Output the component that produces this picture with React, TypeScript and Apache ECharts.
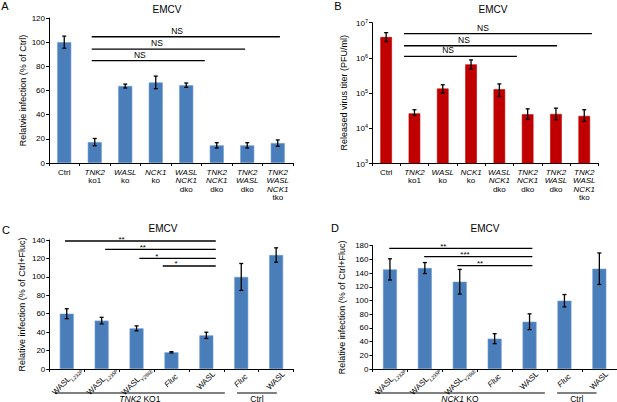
import React, { useEffect, useRef } from 'react';
import * as echarts from 'echarts';

const FONT = '"Liberation Sans", Arial, Helvetica, sans-serif';
const GENES = ['TNK2', 'WASL', 'NCK1'];

// Panel A
const catsA = ['Ctrl', 'TNK2\nko1', 'WASL\nko', 'NCK1\nko', 'WASL\nNCK1\ndko', 'TNK2\nNCK1\ndko', 'TNK2\nWASL\ndko', 'TNK2\nWASL\nNCK1\ntko'];
const valsA = [100, 17.3, 63.7, 66.7, 64.4, 14.6, 14.6, 16.5];
const errA = [5, 3, 1.6, 5.2, 1.8, 2.2, 2.2, 2.6];
const sigA = [
  { from: 0.9, to: 7.07, y: 104.5, label: 'NS', at: 3.7 },
  { from: 0.9, to: 5.93, y: 94.3, label: 'NS', at: 3.04 },
  { from: 0.9, to: 4.61, y: 84.7, label: 'NS', at: 2.48 },
];

// Panel B
const catsB = catsA;
const valsB = [3.9e6, 2.6e4, 1.33e5, 6.5e5, 1.27e5, 2.45e4, 2.5e4, 2.2e4];
const lowB = [2.9e6, 2.27e4, 9.8e4, 4.8e5, 7.9e4, 1.78e4, 1.7e4, 1.53e4];
const highB = [5.2e6, 3.3e4, 1.7e5, 8.7e5, 1.8e5, 3.5e4, 3.66e4, 3.3e4];
const sigB = [
  { from: 0.63, to: 7.27, y: 4.9e6, label: 'NS', at: 3.42 },
  { from: 0.63, to: 6.04, y: 2.2e6, label: 'NS', at: 2.75 },
  { from: 0.63, to: 4.62, y: 1.1e6, label: 'NS', at: 2.19 },
];

// Panel C
const catsC = ['WASL L232P', 'WASL L235P', 'WASL Y256E', 'Fluc', 'WASL', 'Fluc', 'WASL'];
const valsC = [60, 52.5, 44.1, 18.1, 36.5, 99.9, 123.7];
const errC = [5.4, 3.6, 2.7, 0.7, 3.4, 14.6, 7.8];
const sigC = [
  { from: -0.05, to: 4.27, y: 138.9, label: '**', at: 1.57 },
  { from: 1.1, to: 4.27, y: 129.9, label: '**', at: 2.18 },
  { from: 2.08, to: 4.27, y: 120.1, label: '*', at: 2.58 },
  { from: 2.75, to: 4.27, y: 111.8, label: '*', at: 3.13 },
];
const groupsC = [
  { from: -0.34, to: 4.53, label: 'TNK2 KO1' },
  { from: 4.88, to: 6.02, label: 'Ctrl' },
];

// Panel D
const catsD = ['WASL L232P', 'WASL L235P', 'WASL Y256E', 'Fluc', 'WASL', 'Fluc', 'WASL'];
const valsD = [145.4, 147.4, 127.4, 44.3, 69, 99.7, 146.4];
const errD = [15.5, 8, 18, 7.3, 11.5, 9, 23];
const sigD = [
  { from: -0.02, to: 4.08, y: 176.2, label: '**', at: 1.53 },
  { from: 0.98, to: 4.08, y: 164, label: '***', at: 2.15 },
  { from: 1.93, to: 4.08, y: 150.8, label: '**', at: 2.58 },
];
const groupsD = [
  { from: -0.43, to: 4.44, label: 'NCK1 KO' },
  { from: 4.79, to: 5.92, label: 'Ctrl' },
];

const BLUE = '#4a7ebb';
const RED = '#c00000';

const richGene = {
  i: { fontStyle: 'italic', fontSize: 8, lineHeight: 8.5, fontFamily: FONT, color: '#000' },
  n: { fontSize: 8, lineHeight: 8.5, fontFamily: FONT, color: '#000' },
};
const fmtGeneLines = (v: string) =>
  v.split('\n').map((l) => (GENES.includes(l) ? `{i|${l}}` : `{n|${l}}`)).join('\n');

const richSub = {
  w: { fontSize: 8, lineHeight: 9, verticalAlign: 'top', fontFamily: FONT, color: '#000' },
  f: { fontSize: 8, lineHeight: 9, verticalAlign: 'top', fontStyle: 'italic', fontFamily: FONT, color: '#000' },
  s: { fontSize: 5, lineHeight: 6, padding: [5, 0, 0, 0], verticalAlign: 'top', fontStyle: 'italic', fontFamily: FONT, color: '#000' },
};
const fmtSub = (v: string) => {
  const [g, m] = v.split(' ');
  if (g === 'Fluc') return `{f|${g}}`;
  return m ? `{w|${g}}{s|${m}}` : `{w|${g}}`;
};

const txt = (extra: any) => ({
  fontFamily: FONT,
  fill: '#000',
  ...extra,
  align: extra.textAlign,
  verticalAlign: extra.textVerticalAlign,
});

const axisCommon = {
  axisLine: { show: true, lineStyle: { color: '#000', width: 1 } },
  axisTick: { show: true, length: 3, lineStyle: { color: '#000', width: 1 } },
  splitLine: { show: false },
};

function errRender(lows: number[], highs: number[]) {
  return (params: any, api: any) => {
    const i = params.dataIndex;
    const t = api.coord([i, highs[i]]);
    const b = api.coord([i, lows[i]]);
    const cw = 2;
    const st = { stroke: '#000', lineWidth: 1.3 };
    return {
      type: 'group',
      children: [
        { type: 'line', shape: { x1: t[0], y1: t[1], x2: b[0], y2: b[1] }, style: st },
        { type: 'line', shape: { x1: t[0] - cw, y1: t[1], x2: t[0] + cw, y2: t[1] }, style: st },
        { type: 'line', shape: { x1: b[0] - cw, y1: b[1], x2: b[0] + cw, y2: b[1] }, style: st },
      ],
    };
  };
}

function sigRender(list: any[], fontSize: number, dy: number) {
  return (params: any, api: any) => {
    const s = list[params.dataIndex];
    const p0 = api.coord([0, s.y]);
    const p1 = api.coord([1, s.y]);
    const bw = p1[0] - p0[0];
    const x = (f: number) => p0[0] + f * bw;
    return {
      type: 'group',
      children: [
        { type: 'line', shape: { x1: x(s.from), y1: p0[1], x2: x(s.to), y2: p0[1] }, style: { stroke: '#000', lineWidth: 1.3 } },
        {
          type: 'text',
          x: x(s.at),
          y: p0[1] + dy,
          style: txt({ text: s.label, fontSize, textAlign: 'center', textVerticalAlign: 'bottom' }),
        },
      ],
    };
  };
}

function groupRender(list: any[]) {
  return (params: any, api: any) => {
    const g = list[params.dataIndex];
    const p0 = api.coord([0, 0]);
    const p1 = api.coord([1, 0]);
    const bw = p1[0] - p0[0];
    const x = (f: number) => p0[0] + f * bw;
    const y = p0[1] + 24;
    const text = g.label
      .split(' ')
      .map((w: string) => (GENES.includes(w) ? `{i|${w}}` : `{n|${w}}`))
      .join('{n| }');
    return {
      type: 'group',
      children: [
        { type: 'line', shape: { x1: x(g.from), y1: y, x2: x(g.to), y2: y }, style: { stroke: '#000', lineWidth: 1.2 } },
        {
          type: 'text',
          x: x((g.from + g.to) / 2),
          y: y + 1,
          style: txt({
            text,
            textAlign: 'center',
            textVerticalAlign: 'top',
            rich: {
              i: { fontStyle: 'italic', fontSize: 8.5, fontFamily: FONT, fill: '#000' },
              n: { fontSize: 8.5, fontFamily: FONT, fill: '#000' },
            },
          }),
        },
      ],
    };
  };
}

function buildOption() {
  const grids = [
    { left: 49, top: 18, width: 244, height: 145 },
    { left: 372, top: 22.7, width: 226.4, height: 140.3 },
    { left: 49.3, top: 240, width: 244.3, height: 129 },
    { left: 372.5, top: 245.7, width: 244.3, height: 123.3 },
  ];
  const yLabel = { color: '#000', fontSize: 8, fontFamily: FONT, margin: 4 };
  const yName = { color: '#000', fontSize: 9, fontFamily: FONT };
  const xAxis = [
    {
      type: 'category', gridIndex: 0, data: catsA, ...axisCommon,
      axisTick: { ...axisCommon.axisTick, interval: 0 },
      axisLabel: { interval: 0, margin: 5, formatter: fmtGeneLines, rich: richGene },
    },
    {
      type: 'category', gridIndex: 1, data: catsB, ...axisCommon,
      axisTick: { ...axisCommon.axisTick, interval: 0 },
      axisLabel: { interval: 0, margin: 5, formatter: fmtGeneLines, rich: richGene },
    },
    {
      type: 'category', gridIndex: 2, data: catsC, ...axisCommon,
      axisTick: { ...axisCommon.axisTick, interval: 0 },
      axisLabel: { interval: 0, margin: 12, rotate: 45, align: 'center', verticalAlign: 'middle', formatter: fmtSub, rich: richSub },
    },
    {
      type: 'category', gridIndex: 3, data: catsD, ...axisCommon,
      axisTick: { ...axisCommon.axisTick, interval: 0 },
      axisLabel: { interval: 0, margin: 12, rotate: 45, align: 'center', verticalAlign: 'middle', formatter: fmtSub, rich: richSub },
    },
  ];
  const yAxis = [
    {
      type: 'value', gridIndex: 0, min: 0, max: 120, interval: 20, ...axisCommon,
      axisLabel: yLabel, name: 'Relatvie infection (% of Ctrl)', nameLocation: 'middle', nameGap: 19, nameTextStyle: yName,
    },
    {
      type: 'log', logBase: 10, gridIndex: 1, min: 1e3, max: 1e7, ...axisCommon,
      axisLabel: {
        ...yLabel,
        margin: 4,
        formatter: (v: number) => `{b|10}{sup|${Math.round(Math.log10(v))}}`,
        rich: {
          b: { fontSize: 8, lineHeight: 10, verticalAlign: 'bottom', fontFamily: FONT, color: '#000' },
          sup: { fontSize: 5.5, lineHeight: 6, verticalAlign: 'top', fontFamily: FONT, color: '#000' },
        },
      },
      name: 'Released virus titer (PFU/ml)', nameLocation: 'middle', nameGap: 24, nameTextStyle: yName,
    },
    {
      type: 'value', gridIndex: 2, min: 0, max: 140, interval: 20, ...axisCommon,
      axisLabel: yLabel, name: 'Relative infection (% of Ctrl+Fluc)', nameLocation: 'middle', nameGap: 23, nameTextStyle: yName,
    },
    {
      type: 'value', gridIndex: 3, min: 0, max: 180, interval: 20, ...axisCommon,
      axisLabel: yLabel, name: 'Relative infection (% of Ctrl+Fluc)', nameLocation: 'middle', nameGap: 26, nameTextStyle: yName,
    },
  ];

  const bar = (idx: number, data: number[], color: string, width: string) => ({
    type: 'bar', xAxisIndex: idx, yAxisIndex: idx, data, barWidth: width,
    itemStyle: { color, borderColor: color === BLUE ? '#6f9bd1' : color, borderWidth: 0.6 },
    silent: true,
  });
  const err = (idx: number, vals: number[], lows: number[], highs: number[]) => ({
    type: 'custom', xAxisIndex: idx, yAxisIndex: idx,
    data: vals.map((v, i) => [i, v]),
    renderItem: errRender(lows, highs), z: 5, silent: true,
  });
  const sig = (idx: number, list: any[], fs: number, dy: number) => ({
    type: 'custom', xAxisIndex: idx, yAxisIndex: idx,
    data: list.map((s) => [Math.round(s.from < 0 ? 0 : s.from), s.y]),
    renderItem: sigRender(list, fs, dy), z: 6, silent: true,
  });
  const grp = (idx: number, list: any[]) => ({
    type: 'custom', xAxisIndex: idx, yAxisIndex: idx,
    data: list.map(() => [0, 0]),
    renderItem: groupRender(list), z: 6, silent: true, clip: false,
  });

  const series = [
    bar(0, valsA, BLUE, '46%'),
    err(0, valsA, valsA.map((v, i) => v - errA[i]), valsA.map((v, i) => v + errA[i])),
    sig(0, sigA, 8.5, -1.5),
    bar(1, valsB, RED, '41%'),
    err(1, valsB, lowB, highB),
    sig(1, sigB, 8.5, -1.5),
    bar(2, valsC, BLUE, '40%'),
    err(2, valsC, valsC.map((v, i) => v - errC[i]), valsC.map((v, i) => v + errC[i])),
    sig(2, sigC, 8, 2),
    grp(2, groupsC),
    bar(3, valsD, BLUE, '40%'),
    err(3, valsD, valsD.map((v, i) => v - errD[i]), valsD.map((v, i) => v + errD[i])),
    sig(3, sigD, 8, 2),
    grp(3, groupsD),
  ];

  const label = (text: string, x: number, y: number, fontSize: number) => ({
    type: 'text', x, y, silent: true,
    style: txt({ text, fontSize, textAlign: 'center', textVerticalAlign: 'middle' }),
  });

  return {
    animation: false,
    textStyle: { fontFamily: FONT },
    grid: grids,
    xAxis,
    yAxis,
    series,
    graphic: [
      label('A', 5, 6, 11),
      label('EMCV', 167, 9, 10),
      label('B', 338, 5.5, 11),
      label('EMCV', 493, 9, 10),
      label('C', 6, 229.5, 11),
      label('EMCV', 163, 228.5, 10),
      label('D', 335, 228, 11),
      label('EMCV', 485, 228.5, 10),
    ],
  };
}

export default function App() {
  const ref = useRef<HTMLDivElement>(null);
  useEffect(() => {
    if (!ref.current) return;
    const chart = echarts.init(ref.current, undefined, { renderer: 'svg' });
    chart.setOption(buildOption() as any);
    return () => chart.dispose();
  }, []);
  return (
    <div
      ref={ref}
      style={{ position: 'absolute', left: 0, top: 0, width: 617, height: 402, background: '#fff' }}
    />
  );
}
